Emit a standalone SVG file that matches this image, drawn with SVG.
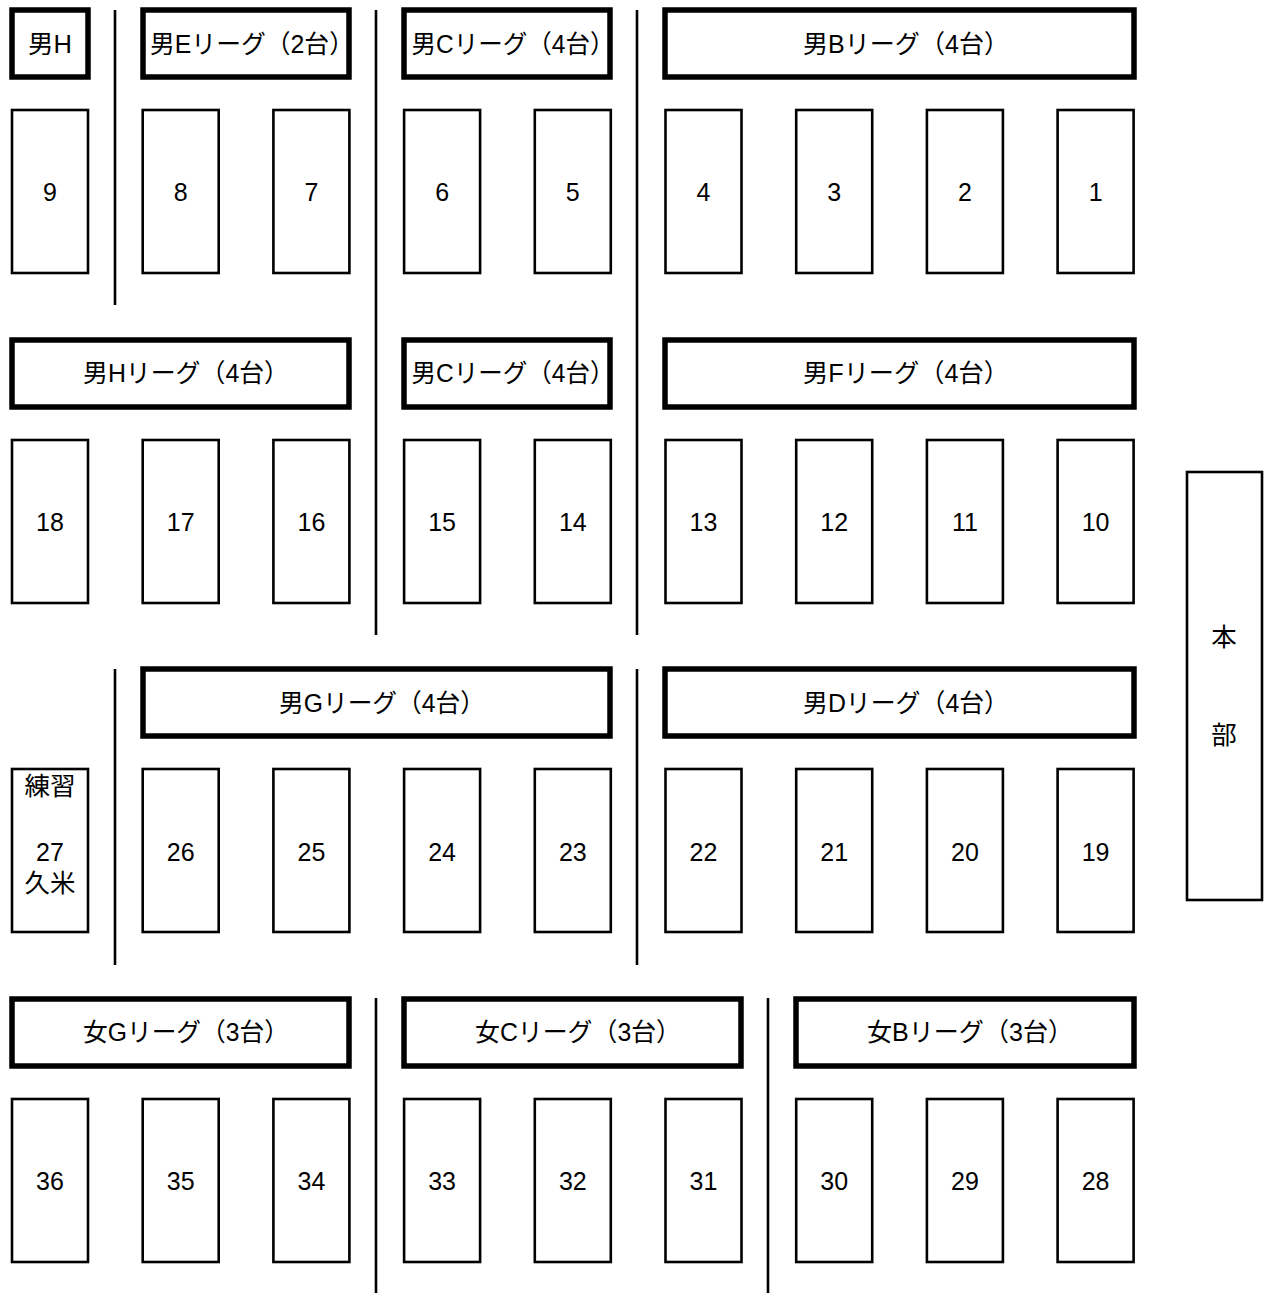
<svg xmlns="http://www.w3.org/2000/svg" width="1268" height="1293" viewBox="0 0 1268 1293">
<style>
.court{fill:#fff;stroke:#000;stroke-width:2.6}
.hdr{fill:#fff;stroke:#000;stroke-width:5.5}
.div{stroke:#000;stroke-width:2.6}
text{font-family:"Liberation Sans","Noto Sans CJK JP",sans-serif;fill:#000;text-anchor:middle;dominant-baseline:central}
.num{font-size:25px}
.lbl{font-size:25.5px}
</style>
<rect width="1268" height="1293" fill="#fff"/>
<g id="dividers">
<line class="div" x1="115" y1="10" x2="115" y2="305"/>
<line class="div" x1="376" y1="10" x2="376" y2="635"/>
<line class="div" x1="637" y1="10" x2="637" y2="635"/>
<line class="div" x1="115" y1="669" x2="115" y2="965"/>
<line class="div" x1="637" y1="669" x2="637" y2="965"/>
<line class="div" x1="376" y1="998" x2="376" y2="1293"/>
<line class="div" x1="768" y1="998" x2="768" y2="1293"/>
</g>
<g id="headers">
<g id="h-men-H"><rect class="hdr" x="12" y="10" width="76" height="67"/><text class="lbl" x="50" y="44">男H</text></g>
<g id="h-men-E"><rect class="hdr" x="143" y="10" width="206" height="67"/><text class="lbl" x="252" y="44" textLength="204" lengthAdjust="spacingAndGlyphs">男Eリーグ（2台）</text></g>
<g id="h-men-C1"><rect class="hdr" x="404" y="10" width="206" height="67"/><text class="lbl" x="513" y="44" textLength="203" lengthAdjust="spacingAndGlyphs">男Cリーグ（4台）</text></g>
<g id="h-men-B"><rect class="hdr" x="665" y="10" width="469" height="67"/><text class="lbl" x="906" y="44" textLength="206" lengthAdjust="spacingAndGlyphs">男Bリーグ（4台）</text></g>
<g id="h-men-H2"><rect class="hdr" x="12" y="340" width="337" height="67"/><text class="lbl" x="186" y="373" textLength="206" lengthAdjust="spacingAndGlyphs">男Hリーグ（4台）</text></g>
<g id="h-men-C2"><rect class="hdr" x="404" y="340" width="206" height="67"/><text class="lbl" x="513" y="373" textLength="203" lengthAdjust="spacingAndGlyphs">男Cリーグ（4台）</text></g>
<g id="h-men-F"><rect class="hdr" x="665" y="340" width="469" height="67"/><text class="lbl" x="906" y="373" textLength="206" lengthAdjust="spacingAndGlyphs">男Fリーグ（4台）</text></g>
<g id="h-men-G"><rect class="hdr" x="143" y="669" width="467" height="67"/><text class="lbl" x="382" y="703" textLength="206" lengthAdjust="spacingAndGlyphs">男Gリーグ（4台）</text></g>
<g id="h-men-D"><rect class="hdr" x="665" y="669" width="469" height="67"/><text class="lbl" x="906" y="703" textLength="206" lengthAdjust="spacingAndGlyphs">男Dリーグ（4台）</text></g>
<g id="h-wom-G"><rect class="hdr" x="12" y="999" width="337" height="67"/><text class="lbl" x="186" y="1032" textLength="206" lengthAdjust="spacingAndGlyphs">女Gリーグ（3台）</text></g>
<g id="h-wom-C"><rect class="hdr" x="404" y="999" width="337" height="67"/><text class="lbl" x="578" y="1032" textLength="206" lengthAdjust="spacingAndGlyphs">女Cリーグ（3台）</text></g>
<g id="h-wom-B"><rect class="hdr" x="796" y="999" width="338" height="67"/><text class="lbl" x="970" y="1032" textLength="206" lengthAdjust="spacingAndGlyphs">女Bリーグ（3台）</text></g>
</g>
<g id="courts">
<g id="c9"><rect class="court" x="12" y="110" width="76" height="163"/><text class="num" x="50" y="192">9</text></g>
<g id="c8"><rect class="court" x="142.7" y="110" width="76" height="163"/><text class="num" x="180.7" y="192">8</text></g>
<g id="c7"><rect class="court" x="273.4" y="110" width="76" height="163"/><text class="num" x="311.4" y="192">7</text></g>
<g id="c6"><rect class="court" x="404.1" y="110" width="76" height="163"/><text class="num" x="442.1" y="192">6</text></g>
<g id="c5"><rect class="court" x="534.8" y="110" width="76" height="163"/><text class="num" x="572.8" y="192">5</text></g>
<g id="c4"><rect class="court" x="665.5" y="110" width="76" height="163"/><text class="num" x="703.5" y="192">4</text></g>
<g id="c3"><rect class="court" x="796.2" y="110" width="76" height="163"/><text class="num" x="834.2" y="192">3</text></g>
<g id="c2"><rect class="court" x="926.9" y="110" width="76" height="163"/><text class="num" x="964.9" y="192">2</text></g>
<g id="c1"><rect class="court" x="1057.6" y="110" width="76" height="163"/><text class="num" x="1095.6" y="192">1</text></g>

<g id="c18"><rect class="court" x="12" y="440" width="76" height="163"/><text class="num" x="50" y="522">18</text></g>
<g id="c17"><rect class="court" x="142.7" y="440" width="76" height="163"/><text class="num" x="180.7" y="522">17</text></g>
<g id="c16"><rect class="court" x="273.4" y="440" width="76" height="163"/><text class="num" x="311.4" y="522">16</text></g>
<g id="c15"><rect class="court" x="404.1" y="440" width="76" height="163"/><text class="num" x="442.1" y="522">15</text></g>
<g id="c14"><rect class="court" x="534.8" y="440" width="76" height="163"/><text class="num" x="572.8" y="522">14</text></g>
<g id="c13"><rect class="court" x="665.5" y="440" width="76" height="163"/><text class="num" x="703.5" y="522">13</text></g>
<g id="c12"><rect class="court" x="796.2" y="440" width="76" height="163"/><text class="num" x="834.2" y="522">12</text></g>
<g id="c11"><rect class="court" x="926.9" y="440" width="76" height="163"/><text class="num" x="964.9" y="522">11</text></g>
<g id="c10"><rect class="court" x="1057.6" y="440" width="76" height="163"/><text class="num" x="1095.6" y="522">10</text></g>

<g id="c27"><rect class="court" x="12" y="769" width="76" height="163"/><text class="lbl" x="50" y="786">練習</text><text class="num" x="50" y="852">27</text><text class="lbl" x="50" y="883">久米</text></g>
<g id="c26"><rect class="court" x="142.7" y="769" width="76" height="163"/><text class="num" x="180.7" y="852">26</text></g>
<g id="c25"><rect class="court" x="273.4" y="769" width="76" height="163"/><text class="num" x="311.4" y="852">25</text></g>
<g id="c24"><rect class="court" x="404.1" y="769" width="76" height="163"/><text class="num" x="442.1" y="852">24</text></g>
<g id="c23"><rect class="court" x="534.8" y="769" width="76" height="163"/><text class="num" x="572.8" y="852">23</text></g>
<g id="c22"><rect class="court" x="665.5" y="769" width="76" height="163"/><text class="num" x="703.5" y="852">22</text></g>
<g id="c21"><rect class="court" x="796.2" y="769" width="76" height="163"/><text class="num" x="834.2" y="852">21</text></g>
<g id="c20"><rect class="court" x="926.9" y="769" width="76" height="163"/><text class="num" x="964.9" y="852">20</text></g>
<g id="c19"><rect class="court" x="1057.6" y="769" width="76" height="163"/><text class="num" x="1095.6" y="852">19</text></g>

<g id="c36"><rect class="court" x="12" y="1099" width="76" height="163"/><text class="num" x="50" y="1181">36</text></g>
<g id="c35"><rect class="court" x="142.7" y="1099" width="76" height="163"/><text class="num" x="180.7" y="1181">35</text></g>
<g id="c34"><rect class="court" x="273.4" y="1099" width="76" height="163"/><text class="num" x="311.4" y="1181">34</text></g>
<g id="c33"><rect class="court" x="404.1" y="1099" width="76" height="163"/><text class="num" x="442.1" y="1181">33</text></g>
<g id="c32"><rect class="court" x="534.8" y="1099" width="76" height="163"/><text class="num" x="572.8" y="1181">32</text></g>
<g id="c31"><rect class="court" x="665.5" y="1099" width="76" height="163"/><text class="num" x="703.5" y="1181">31</text></g>
<g id="c30"><rect class="court" x="796.2" y="1099" width="76" height="163"/><text class="num" x="834.2" y="1181">30</text></g>
<g id="c29"><rect class="court" x="926.9" y="1099" width="76" height="163"/><text class="num" x="964.9" y="1181">29</text></g>
<g id="c28"><rect class="court" x="1057.6" y="1099" width="76" height="163"/><text class="num" x="1095.6" y="1181">28</text></g>
</g>
<g id="honbu"><rect class="court" x="1187" y="472" width="75" height="428"/><text class="lbl" x="1224" y="637">本</text><text class="lbl" x="1224" y="735">部</text></g>
</svg>
